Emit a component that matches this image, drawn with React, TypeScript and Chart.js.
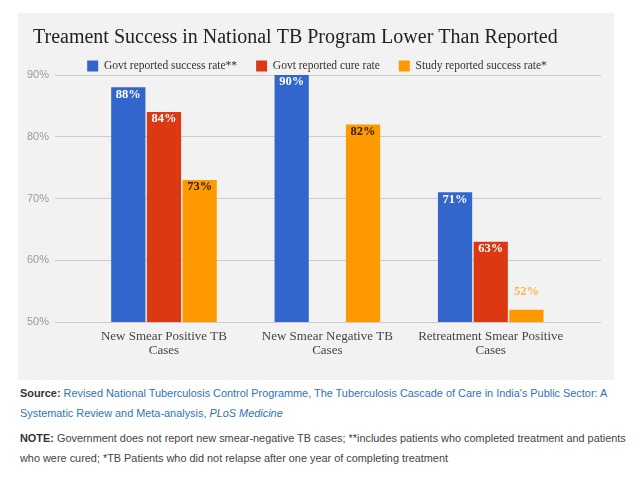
import React, { useEffect, useRef } from "react";
import { Chart, registerables } from "chart.js";

Chart.register(...registerables);

// Categories (two-line axis labels)
const categories: string[][] = [
  ["New Smear Positive TB", "Cases"],
  ["New Smear Negative TB", "Cases"],
  ["Retreatment Smear Positive", "Cases"],
];

const seriesNames = [
  "Govt reported success rate**",
  "Govt reported cure rate",
  "Study reported success rate*",
];

// Percent values per category (null = not reported)
const govtSuccessRate: (number | null)[] = [88, 90, 71];
const govtCureRate: (number | null)[] = [84, null, 63];
const studySuccessRate: (number | null)[] = [73, 82, 52];

const yTickValues = [50, 60, 70, 80, 90];

const seriesValues = [govtSuccessRate, govtCureRate, studySuccessRate];
const seriesColors = ["#3366cc", "#dc3912", "#ff9900"];
const insideLabelColors = ["#ffffff", "#ffffff", "#2e2200"];
const outsideLabelColors = ["#3366cc", "#dc3912", "#f8b64c"];

const SERIF = "'Liberation Serif', 'Times New Roman', serif";
const SANS = "'Liberation Sans', Arial, sans-serif";

// Value labels at the top of each bar; short bars get the label above them
const barValueLabels = {
  id: "barValueLabels",
  afterDatasetsDraw(chart: any) {
    const ctx = chart.ctx;
    const bottom = chart.chartArea.bottom;
    ctx.save();
    ctx.textAlign = "center";
    ctx.textBaseline = "middle";
    ctx.font = `bold 12.5px ${SERIF}`;
    chart.data.datasets.forEach((_ds: any, di: number) => {
      const meta = chart.getDatasetMeta(di);
      meta.data.forEach((bar: any, i: number) => {
        const v = seriesValues[di][i];
        if (v == null) return;
        const { x, y, base } = bar.getProps(["x", "y", "base"], true);
        const visibleHeight = Math.min(base, bottom) - y;
        const text = `${v}%`;
        if (visibleHeight >= 22) {
          ctx.fillStyle = insideLabelColors[di];
          ctx.fillText(text, x, y + 7);
        } else {
          ctx.fillStyle = outsideLabelColors[di];
          ctx.fillText(text, x, y - 18);
        }
      });
    });
    ctx.restore();
  },
};

// Let the y tick labels use the margin left of the title indent
const yLabelMargin = {
  id: "yLabelMargin",
  afterLayout(chart: any) {
    const y = chart.scales.y;
    if (y) y.left = 0;
  },
};

function TreatmentChart() {
  const canvasRef = useRef<HTMLCanvasElement | null>(null);

  useEffect(() => {
    const canvas = canvasRef.current;
    if (!canvas) return;
    const chart = new Chart(canvas, {
      type: "bar",
      data: {
        datasets: seriesValues.map((vals, di) => ({
          label: seriesNames[di],
          data: vals.map((v, i) => ({ x: i, y: v })),
          backgroundColor: seriesColors[di],
          borderWidth: 0,
          categoryPercentage: 0.655,
          barPercentage: 0.96,
        })),
      },
      options: {
        responsive: false,
        animation: false,
        layout: { padding: { left: 15, right: 13, top: 0, bottom: 14 } },
        plugins: {
          title: {
            display: true,
            text: "Treament Success in National TB Program Lower Than Reported",
            align: "start",
            color: "#222222",
            font: { family: SERIF, size: 20, weight: "normal", lineHeight: 0.375 },
            padding: { top: 20.75, bottom: 0 },
          },
          legend: {
            display: true,
            position: "top",
            maxHeight: 33.75,
            labels: {
              font: { family: SERIF, size: 11.5 },
              color: "#333333",
              boxWidth: 11,
              boxHeight: 11,
              padding: 19,
            },
          },
          tooltip: { enabled: false },
        },
        scales: {
          x: {
            type: "linear",
            offset: false,
            bounds: "data",
            min: -0.667,
            max: 2.675,
            grid: { display: false, drawTicks: false, offset: false },
            border: { display: false },
            afterBuildTicks: (scale: any) => {
              scale.ticks = categories.map((_c, i) => ({ value: i }));
            },
            ticks: {
              autoSkip: false,
              maxRotation: 0,
              padding: 8,
              color: "#444444",
              font: { family: SERIF, size: 13, lineHeight: "14px" },
              callback: (value: any) => categories[value] ?? "",
            },
          },
          y: {
            min: yTickValues[0],
            max: yTickValues[yTickValues.length - 1],
            afterBuildTicks: (scale: any) => {
              scale.ticks = yTickValues.map((v) => ({ value: v }));
            },
            afterFit: (scale: any) => {
              scale.width = 22;
            },
            grid: { color: "#cccccc", drawTicks: false },
            border: { display: false },
            ticks: {
              padding: 6,
              color: "#9a9a9a",
              font: { family: SANS, size: 11 },
              callback: (value: any) => `${value}%`,
            },
          },
        },
      },
      plugins: [barValueLabels, yLabelMargin],
    } as any);
    return () => chart.destroy();
  }, []);

  return (
    <div
      style={{
        position: "absolute",
        left: 18,
        top: 13,
        width: 596,
        height: 367,
        background: "#f2f2f2",
      }}
    >
      <canvas ref={canvasRef} width={596} height={367} style={{ display: "block" }} />
    </div>
  );
}

const linkStyle: React.CSSProperties = { color: "#2f73b8" };
const labelStyle: React.CSSProperties = { fontWeight: "bold", color: "#333333" };

export default function App() {
  return (
    <div>
      <TreatmentChart />
      <div
        style={{
          position: "absolute",
          left: 20,
          top: 383,
          fontFamily: SANS,
          fontSize: 10.9,
          lineHeight: "20px",
          color: "#444444",
          whiteSpace: "nowrap",
        }}
      >
        <div>
          <span style={labelStyle}>Source:</span>{" "}
          <span style={linkStyle}>
            Revised National Tuberculosis Control Programme, The Tuberculosis Cascade of Care in India's Public Sector: A
          </span>
          <br />
          <span style={linkStyle}>
            Systematic Review and Meta-analysis, <i>PLoS Medicine</i>
          </span>
        </div>
        <div style={{ marginTop: 5 }}>
          <span style={labelStyle}>NOTE:</span> Government does not report new smear-negative TB cases; **includes
          patients who completed treatment and patients
          <br />
          who were cured; *TB Patients who did not relapse after one year of completing treatment
        </div>
      </div>
    </div>
  );
}
